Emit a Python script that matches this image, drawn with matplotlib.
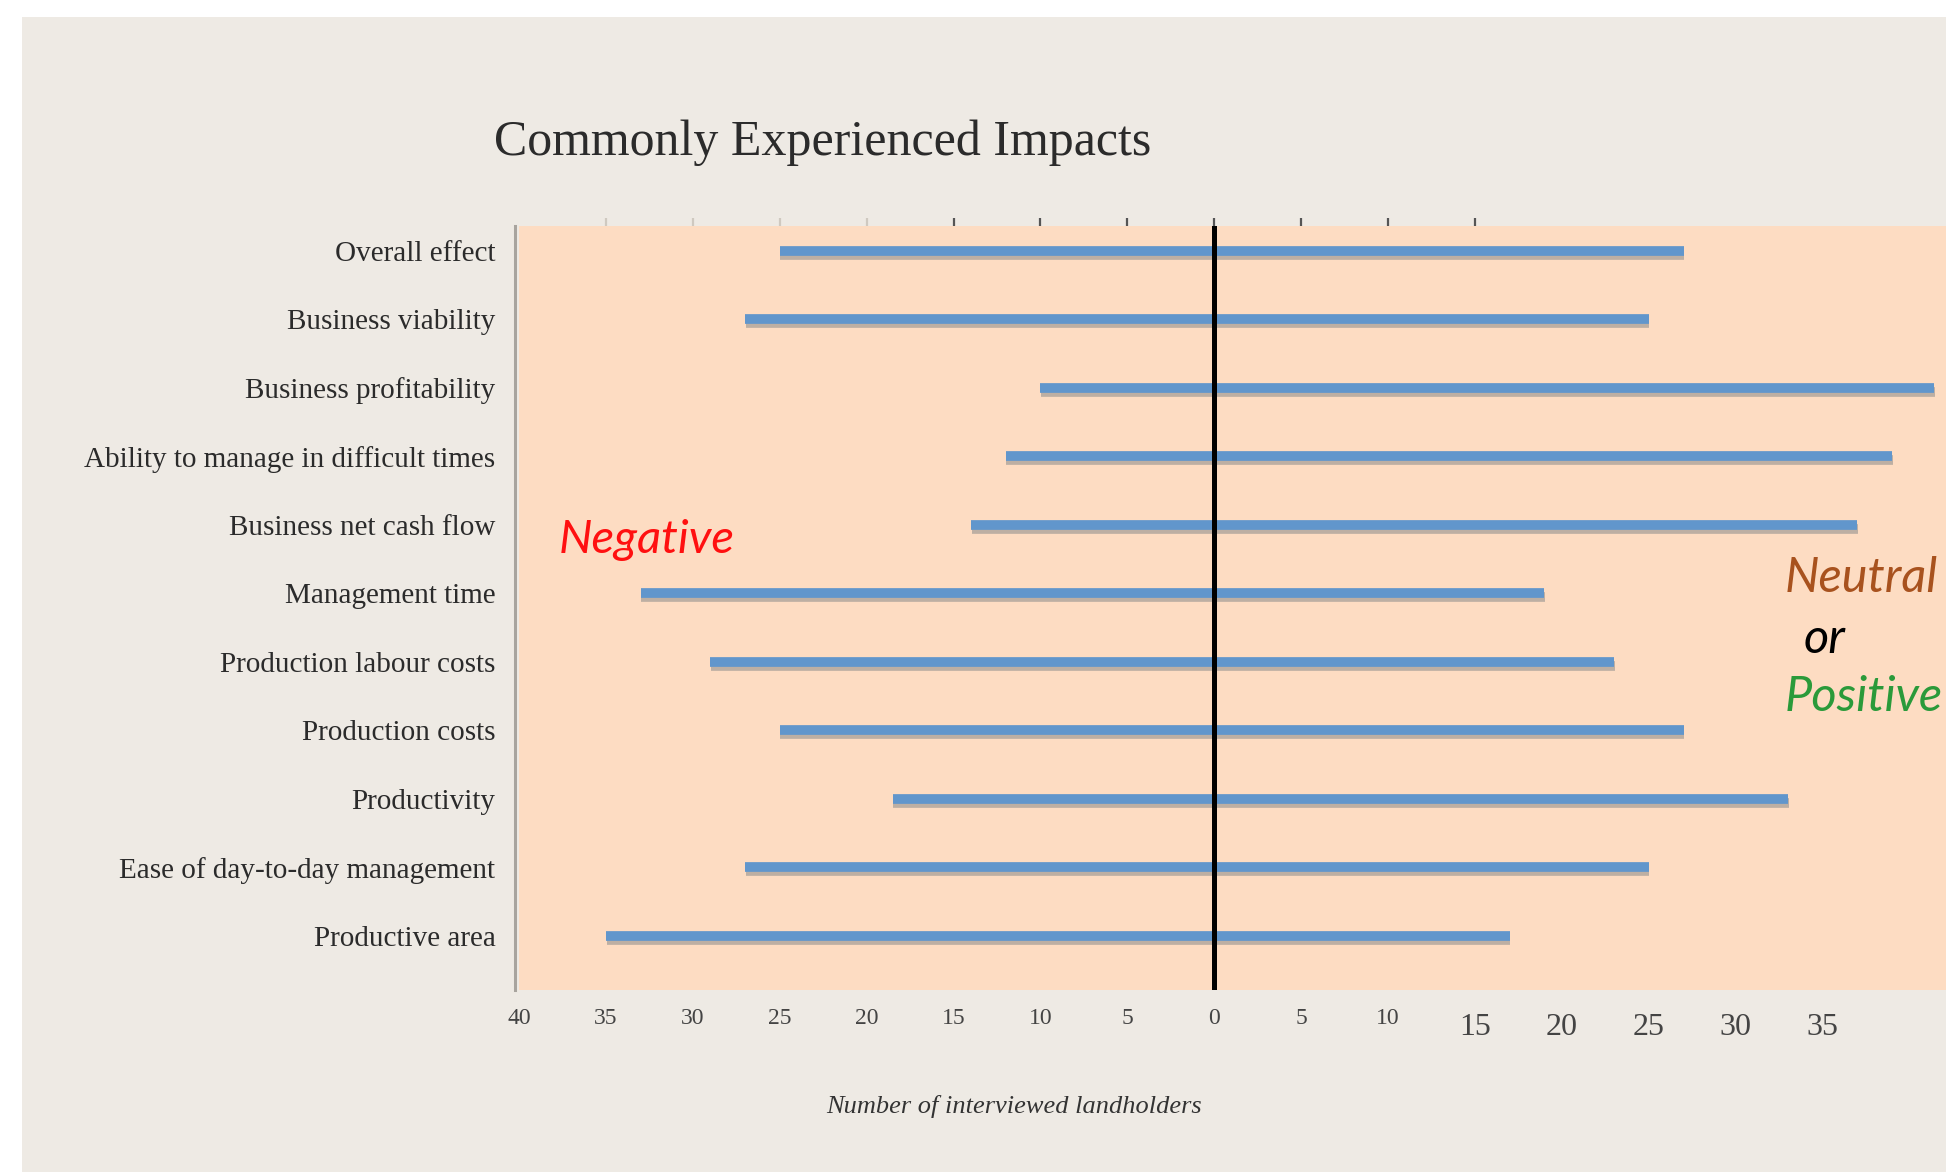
import numpy as np
import matplotlib.pyplot as plt
import matplotlib.patheffects as pe
from matplotlib.patches import Rectangle

# 데이터
categories = ['Overall effect', 'Business viability', 'Business profitability',
              'Ability to manage in difficult times', 'Business net cash flow',
              'Management time', 'Production labour costs', 'Production costs',
              'Productivity', 'Ease of day-to-day management', 'Productive area']
negative = [25, 27, 10, 12, 14, 33, 29, 25, 18.5, 27, 35]
neutral_positive = [27, 25, 41.4, 39, 37, 19, 23, 27, 33, 25, 17]
tick_values = [-40, -35, -30, -25, -20, -15, -10, -5, 0, 5, 10, 15, 20, 25, 30, 35]
tick_labels = [str(abs(v)) for v in tick_values]

serif = ['Liberation Serif', 'DejaVu Serif']
sans = ['Lato', 'DejaVu Sans']

fig = plt.figure(figsize=(19.46, 11.72), dpi=100, facecolor='white')
# 베이지 배경 (왼쪽/위쪽 흰 여백)
fig.patches.append(Rectangle((22 / 1946, 0), 1, 1 - 17 / 1172, transform=fig.transFigure,
                             facecolor='#EEEAE4', edgecolor='none', zorder=-10))

ax = fig.add_axes([0.2667, 0.155, 0.7333, 0.652])
ax.set_facecolor('#FDDCC2')

# spine 위치는 눈금 라벨보다 먼저 (set_position 이 tick 을 리셋함)
for s in ['top', 'right', 'bottom']:
    ax.spines[s].set_visible(False)
ax.spines['left'].set_color('#A8A49E')
ax.spines['left'].set_linewidth(2.2)
ax.spines['left'].set_position(('outward', 3))

y = np.arange(len(categories))
shadow = [pe.SimpleLineShadow(offset=(0.5, -3), shadow_color='#8a8a8a', alpha=0.55), pe.Normal()]
for i in range(len(categories)):
    ax.plot([-negative[i], neutral_positive[i]], [y[i], y[i]], color='#6196CC', lw=7,
            solid_capstyle='butt', path_effects=shadow, zorder=3)

ax.axvline(0, color='black', lw=3.6, zorder=4)

ax.set_xlim(-40, 42.1)
ax.set_ylim(10.8, -0.36)

ax.set_yticks(y)
ax.set_yticklabels(categories, fontfamily=serif, fontsize=21, color='#2b2b2b')
ax.tick_params(axis='y', length=0, pad=14)

ax.set_xticks(tick_values)
ax.set_xticklabels(tick_labels, fontfamily=serif, fontsize=17, color='#444444')
ax.tick_params(axis='x', length=0, pad=13)
for v, lbl in zip(tick_values, ax.get_xticklabels()):
    if v >= 15:
        lbl.set_fontsize(23)
        lbl.set_y(-0.006)

# 위쪽 눈금 (왼쪽은 흐리게)
faint_ticks = [v for v in tick_values if -35 <= v <= -20]
dark_ticks = [v for v in tick_values if -15 <= v <= 15]
for ticks, col in [(faint_ticks, '#cfc9c0'), (dark_ticks, '#555555')]:
    top = ax.secondary_xaxis('top')
    top.set_xticks(ticks)
    top.set_xticklabels([])
    top.tick_params(length=6, width=1.6, color=col)
    top.spines['top'].set_visible(False)

ax.text(-37.7, 4.22, 'Negative', color='#FF1010', fontsize=34, fontstyle='italic',
        fontfamily=sans, ha='left', va='center')
ax.text(32.8, 4.78, 'Neutral', color='#A8521E', fontsize=35, fontstyle='italic',
        fontfamily=sans, ha='left', va='center')
ax.text(33.9, 5.67, 'or', color='black', fontsize=35, fontstyle='italic',
        fontfamily=sans, ha='left', va='center')
ax.text(32.8, 6.52, 'Positive', color='#2A9A3A', fontsize=35, fontstyle='italic',
        fontfamily=sans, ha='left', va='center')

fig.text(0.254, 0.878, 'Commonly Experienced Impacts', fontfamily=serif, fontsize=36,
         color='#2b2b2b', ha='left', va='center')
fig.text(0.521, 0.0555, 'Number of interviewed landholders', fontfamily=serif, fontsize=19,
         fontstyle='italic', color='#333333', ha='center', va='center')

fig.savefig('out.png', dpi=100, facecolor=fig.get_facecolor())
